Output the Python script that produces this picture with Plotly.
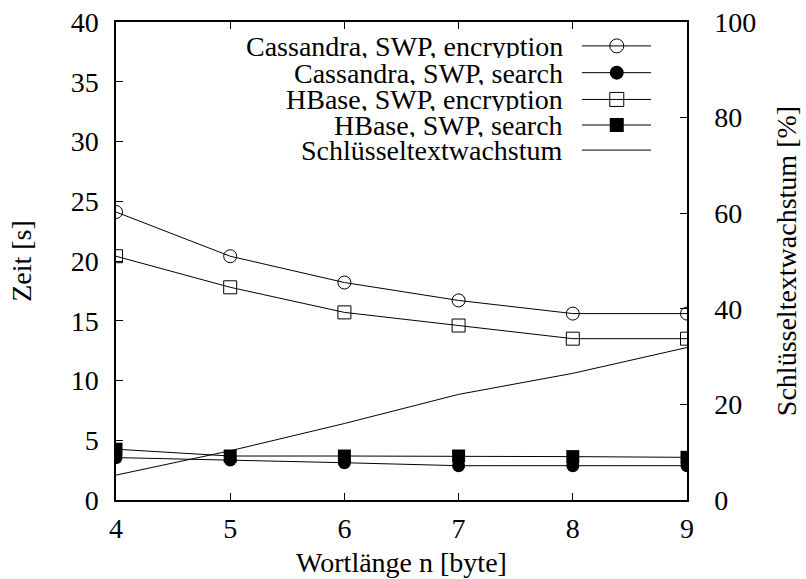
import plotly.graph_objects as go

# ---- data ----
word_len = [4, 5, 6, 7, 8, 9]
cass_enc = [24.1, 20.4, 18.2, 16.7, 15.6, 15.6]
cass_search = [3.55, 3.35, 3.12, 2.87, 2.87, 2.87]
hbase_enc = [20.4, 17.8, 15.7, 14.6, 13.5, 13.5]
hbase_search = [4.25, 3.68, 3.68, 3.68, 3.63, 3.57]
growth = [5.2, 10.3, 16.0, 22.1, 26.5, 31.9]

series_names = [
    "Cassandra, SWP, encryption",
    "Cassandra, SWP, search",
    "HBase, SWP, encryption",
    "HBase, SWP, search",
    "Schlüsseltextwachstum",
]

x_ticks = [4, 5, 6, 7, 8, 9]
y_ticks = [0, 5, 10, 15, 20, 25, 30, 35, 40]
y2_ticks = [0, 20, 40, 60, 80, 100]

FONT = "Liberation Serif"
FS = 28
BLACK = "black"

styles = [
    dict(symbol="circle-open", color=BLACK, line=dict(width=1, color=BLACK)),
    dict(symbol="circle", color=BLACK, line=dict(width=0, color=BLACK)),
    dict(symbol="square-open", color=BLACK, line=dict(width=1, color=BLACK)),
    dict(symbol="square", color=BLACK, line=dict(width=0, color=BLACK)),
    None,
]

fig = go.Figure()

data_series = [cass_enc, cass_search, hbase_enc, hbase_search]
for vals, st, name in zip(data_series, styles, series_names):
    fig.add_trace(go.Scatter(
        x=word_len, y=vals, mode="lines+markers", name=name,
        line=dict(color=BLACK, width=1),
        marker=dict(size=13, **st),
        xaxis="x", yaxis="y", showlegend=False,
    ))

fig.add_trace(go.Scatter(
    x=word_len, y=growth, mode="lines", name=series_names[4],
    line=dict(color=BLACK, width=1),
    xaxis="x", yaxis="y2", showlegend=False,
))

# ---- custom legend (text left of sample, gnuplot style) ----
leg_rows = [0.950, 0.894, 0.838, 0.7845, 0.732]
leg_line_x = [0.816, 0.937]
leg_mark_x = 0.877
leg_text_x = 0.785
for i, (name, st, ry) in enumerate(zip(series_names, styles, leg_rows)):
    fig.add_trace(go.Scatter(
        x=leg_line_x, y=[ry, ry], mode="lines",
        line=dict(color=BLACK, width=1),
        xaxis="x3", yaxis="y3", showlegend=False, hoverinfo="skip",
    ))
    if st is not None:
        fig.add_trace(go.Scatter(
            x=[leg_mark_x], y=[ry], mode="markers",
            marker=dict(size=14, **st),
            xaxis="x3", yaxis="y3", showlegend=False, hoverinfo="skip",
        ))
    fig.add_annotation(
        x=leg_text_x, y=ry, xref="paper", yref="paper",
        text=name, showarrow=False, xanchor="right", yanchor="middle",
        height=24, borderpad=0,
        font=dict(family=FONT, size=FS, color=BLACK),
    )

axis_common = dict(
    showgrid=False, zeroline=False, showline=True, linecolor=BLACK,
    linewidth=1.5, ticks="inside", ticklen=7, tickwidth=1, tickcolor=BLACK,
    tickfont=dict(family=FONT, size=FS, color=BLACK), automargin=False,
)

fig.update_layout(
    width=806, height=579,
    margin=dict(l=116, r=119, t=22, b=79),
    paper_bgcolor="white", plot_bgcolor="white",
    font=dict(family=FONT, size=FS, color=BLACK),
    showlegend=False,
    xaxis=dict(
        range=[4, 9], tickvals=x_ticks, mirror="ticks",
        title=dict(text="Wortlänge n [byte]", font=dict(family=FONT, size=FS, color=BLACK), standoff=9),
        ticklabelstandoff=3,
        **axis_common,
    ),
    yaxis=dict(
        range=[0, 40], tickvals=y_ticks,
        title=dict(text="Zeit [s]", font=dict(family=FONT, size=FS, color=BLACK), standoff=31),
        ticklabelstandoff=10,
        **axis_common,
    ),
    yaxis2=dict(
        range=[0, 100], tickvals=y2_ticks, overlaying="y", side="right",
        title=dict(text="Schlüsseltextwachstum [%]", font=dict(family=FONT, size=FS, color=BLACK), standoff=21),
        ticklabelstandoff=20,
        **axis_common,
    ),
    xaxis3=dict(range=[0, 1], domain=[0, 1], visible=False, overlaying="x", anchor="y3"),
    yaxis3=dict(range=[0, 1], domain=[0, 1], visible=False, overlaying="y", anchor="x3"),
)

fig.write_html("out.html")
